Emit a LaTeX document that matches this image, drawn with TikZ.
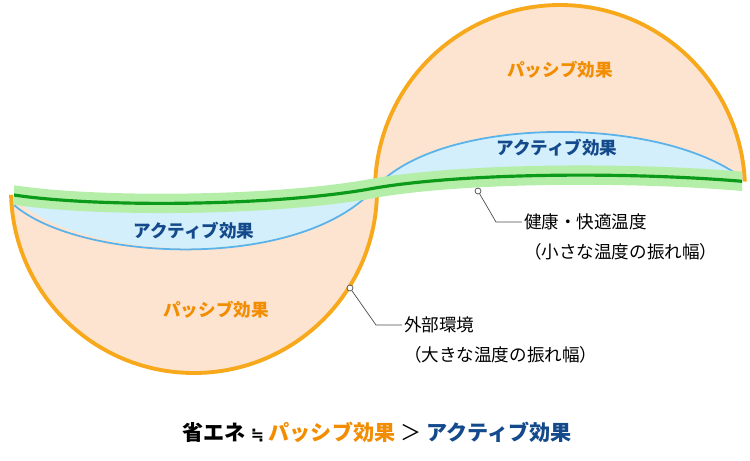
\documentclass[tikz,border=0pt]{standalone}
\usepackage{fontspec}
\setmainfont{Noto Sans CJK JP}
\newfontfamily\symfont{DejaVu Sans}
\usetikzlibrary{positioning}
\definecolor{ringorange}{HTML}{F7A81B}
\definecolor{peach}{HTML}{FDE4D0}
\definecolor{iceblue}{HTML}{D2EFFB}
\definecolor{arcblue}{HTML}{5AB2EA}
\definecolor{bandgreen}{HTML}{B5EEA8}
\definecolor{linegreen}{HTML}{0C9A1A}
\definecolor{textorange}{HTML}{F28C00}
\definecolor{textblue}{HTML}{144A8C}
\begin{document}
\begin{tikzpicture}[x=0.02cm,y=-0.02cm]
	\tikzstyle{passive}=[font=\bfseries,text=textorange]
	\tikzstyle{active}=[font=\bfseries,text=textblue]
	\tikzstyle{note}=[anchor=west,inner sep=1pt]
	\tikzstyle{leader}=[draw=black!70,line width=0.4pt]
	\def\wave{(0,194) -- (14,195) .. controls (100,208) and (280,206) .. (375,188) .. controls (470,172) and (640,172) .. (750,182)}
	\useasboundingbox (0,0) rectangle (750,460);
	% lower circle, below the band
	\begin{scope}
		\clip \wave -- (750,460) -- (0,460) -- cycle;
		\fill[peach] (194,190) circle (183);
		\fill[iceblue] (14,198) .. controls (80,262) and (300,272) .. (375,188) -- cycle;
		\draw[arcblue,line width=1pt] (14,205) .. controls (80,262) and (300,272) .. (375,188);
		\draw[ringorange,line width=2.2pt] (194,190) circle (183);
	\end{scope}
	% upper circle, above the band
	\begin{scope}
		\clip \wave -- (750,0) -- (0,0) -- cycle;
		\fill[peach] (560,190) circle (185);
		\fill[iceblue] (375,188) .. controls (440,115) and (660,115) .. (742,178) -- cycle;
		\draw[arcblue,line width=1pt] (375,188) .. controls (440,115) and (660,115) .. (742,178);
		\draw[ringorange,line width=2.2pt] (560,190) circle (185);
	\end{scope}
	% comfort band
	\begin{scope}
		\clip (14,0) rectangle (742,460);
		\draw[bandgreen,line width=11pt] \wave;
		\draw[linegreen,line width=1.8pt] \wave;
	\end{scope}
	\node[passive](pu) at (560,70){パッシブ効果};
	\node[passive](pl) at (216,310){パッシブ効果};
	\node[active](au) at (557,148){アクティブ効果};
	\node[active](al) at (194,231){アクティブ効果};
	% leaders
	\node[draw=black!70,fill=white,circle,inner sep=1.2pt](d1) at (478,191){};
	\coordinate (k1) at (496,222);
	\node[note](t1) at (522,222){健康・快適温度};
	\node[note](t1b) at (522,252){（小さな温度の振れ幅）};
	\draw[leader] (d1) -- (k1) -- (t1);
	\node[draw=black!70,fill=white,circle,inner sep=1.2pt](d2) at (350,288){};
	\coordinate (k2) at (376,325);
	\node[note](t2) at (402,325){外部環境};
	\node[note](t2b) at (402,355){（大きな温度の振れ幅）};
	\draw[leader] (d2) -- (k2) -- (t2);
	\node[font=\bfseries\large](sum) at (377,432){省エネ {\symfont\small ≒} \textcolor{textorange}{パッシブ効果} {\normalfont ＞} \textcolor{textblue}{アクティブ効果}};
\end{tikzpicture}
\end{document}
